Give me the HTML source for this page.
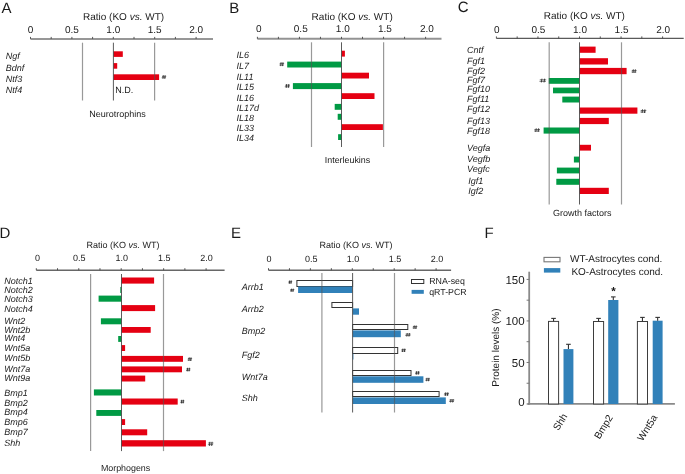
<!DOCTYPE html>
<html><head><meta charset="utf-8"><style>
html,body{margin:0;padding:0;background:#fff;}
svg{display:block;filter:blur(0.4px);}
text{font-family:"Liberation Sans",sans-serif;fill:#1a1a1a;text-rendering:geometricPrecision;}
</style></head><body>
<svg width="685" height="474" viewBox="0 0 685 474">
<rect width="685" height="474" fill="#fff"/>
<text x="1.4" y="13" font-size="15" text-anchor="start">A</text>
<line x1="30.50" y1="38.90" x2="213.00" y2="38.90" stroke="#979797" stroke-width="2.0"/>
<line x1="30.50" y1="36.90" x2="30.50" y2="38.90" stroke="#444" stroke-width="0.9"/>
<line x1="51.20" y1="36.90" x2="51.20" y2="38.90" stroke="#444" stroke-width="0.9"/>
<line x1="71.90" y1="36.90" x2="71.90" y2="38.90" stroke="#444" stroke-width="0.9"/>
<line x1="92.60" y1="36.90" x2="92.60" y2="38.90" stroke="#444" stroke-width="0.9"/>
<line x1="113.30" y1="36.90" x2="113.30" y2="38.90" stroke="#444" stroke-width="0.9"/>
<line x1="134.00" y1="36.90" x2="134.00" y2="38.90" stroke="#444" stroke-width="0.9"/>
<line x1="154.70" y1="36.90" x2="154.70" y2="38.90" stroke="#444" stroke-width="0.9"/>
<line x1="175.40" y1="36.90" x2="175.40" y2="38.90" stroke="#444" stroke-width="0.9"/>
<line x1="196.10" y1="36.90" x2="196.10" y2="38.90" stroke="#444" stroke-width="0.9"/>
<text x="30.50" y="33" font-size="10" text-anchor="middle">0</text>
<text x="71.90" y="33" font-size="10" text-anchor="middle">0.5</text>
<text x="113.30" y="33" font-size="10" text-anchor="middle">1.0</text>
<text x="154.70" y="33" font-size="10" text-anchor="middle">1.5</text>
<text x="196.10" y="33" font-size="10" text-anchor="middle">2.0</text>
<text x="83" y="20.0" font-size="10">Ratio (KO <tspan font-style="italic">vs.</tspan> WT)</text>
<text x="5.8" y="58.9" font-size="9" text-anchor="start" font-style="italic">Ngf</text>
<text x="5.8" y="70.9" font-size="9" text-anchor="start" font-style="italic">Bdnf</text>
<text x="5.8" y="81.7" font-size="9" text-anchor="start" font-style="italic">Ntf3</text>
<text x="5.8" y="92.6" font-size="9" text-anchor="start" font-style="italic">Ntf4</text>
<rect x="113.40" y="51.30" width="9.40" height="5.60" fill="#e50012"/>
<rect x="113.40" y="63.10" width="3.80" height="5.60" fill="#e50012"/>
<rect x="113.40" y="74.30" width="45.70" height="5.70" fill="#e50012"/>
<g stroke="#3a3a3a" fill="none"><line stroke-width="0.7" x1="162.00" y1="76.32" x2="166.20" y2="76.32"/><line stroke-width="0.7" x1="161.70" y1="77.75" x2="165.90" y2="77.75"/><line stroke-width="1.0" x1="163.32" y1="75.30" x2="162.96" y2="78.70"/><line stroke-width="1.0" x1="165.12" y1="75.30" x2="164.76" y2="78.70"/></g>
<text x="115.3" y="92.6" font-size="9" text-anchor="start">N.D.</text>
<text x="89.2" y="116.6" font-size="9" text-anchor="start">Neurotrophins</text>
<text x="229.3" y="12.7" font-size="15" text-anchor="start">B</text>
<line x1="257.40" y1="38.80" x2="441.50" y2="38.80" stroke="#939393" stroke-width="2.0"/>
<line x1="257.40" y1="36.80" x2="257.40" y2="38.80" stroke="#444" stroke-width="0.9"/>
<line x1="278.42" y1="36.80" x2="278.42" y2="38.80" stroke="#444" stroke-width="0.9"/>
<line x1="299.45" y1="36.80" x2="299.45" y2="38.80" stroke="#444" stroke-width="0.9"/>
<line x1="320.47" y1="36.80" x2="320.47" y2="38.80" stroke="#444" stroke-width="0.9"/>
<line x1="341.50" y1="36.80" x2="341.50" y2="38.80" stroke="#444" stroke-width="0.9"/>
<line x1="362.52" y1="36.80" x2="362.52" y2="38.80" stroke="#444" stroke-width="0.9"/>
<line x1="383.55" y1="36.80" x2="383.55" y2="38.80" stroke="#444" stroke-width="0.9"/>
<line x1="404.57" y1="36.80" x2="404.57" y2="38.80" stroke="#444" stroke-width="0.9"/>
<line x1="425.60" y1="36.80" x2="425.60" y2="38.80" stroke="#444" stroke-width="0.9"/>
<text x="258.70" y="31.9" font-size="10" text-anchor="middle">0</text>
<text x="300.75" y="31.9" font-size="10" text-anchor="middle">0.5</text>
<text x="342.80" y="31.9" font-size="10" text-anchor="middle">1.0</text>
<text x="384.85" y="31.9" font-size="10" text-anchor="middle">1.5</text>
<text x="426.90" y="31.9" font-size="10" text-anchor="middle">2.0</text>
<text x="311.6" y="19.7" font-size="10">Ratio (KO <tspan font-style="italic">vs.</tspan> WT)</text>
<text x="236.6" y="57.6" font-size="9" text-anchor="start" font-style="italic">IL6</text>
<text x="236.6" y="69.2" font-size="9" text-anchor="start" font-style="italic">IL7</text>
<text x="236.6" y="79.5" font-size="9" text-anchor="start" font-style="italic">IL11</text>
<text x="236.6" y="90.1" font-size="9" text-anchor="start" font-style="italic">IL15</text>
<text x="236.6" y="100.8" font-size="9" text-anchor="start" font-style="italic">IL16</text>
<text x="236.6" y="111.2" font-size="9" text-anchor="start" font-style="italic">IL17d</text>
<text x="236.6" y="121.2" font-size="9" text-anchor="start" font-style="italic">IL18</text>
<text x="236.6" y="131.4" font-size="9" text-anchor="start" font-style="italic">IL33</text>
<text x="236.6" y="141.1" font-size="9" text-anchor="start" font-style="italic">IL34</text>
<rect x="341.50" y="50.70" width="3.40" height="5.90" fill="#e50012"/>
<rect x="287.20" y="61.60" width="54.30" height="5.90" fill="#009a44"/>
<rect x="341.50" y="72.70" width="27.50" height="5.80" fill="#e50012"/>
<rect x="292.90" y="83.10" width="48.60" height="6.00" fill="#009a44"/>
<rect x="341.50" y="93.20" width="33.00" height="5.80" fill="#e50012"/>
<rect x="334.70" y="103.90" width="6.80" height="5.90" fill="#009a44"/>
<rect x="337.70" y="113.80" width="3.80" height="6.00" fill="#009a44"/>
<rect x="341.50" y="124.20" width="41.40" height="5.80" fill="#e50012"/>
<rect x="338.10" y="134.20" width="3.40" height="5.80" fill="#009a44"/>
<g stroke="#3a3a3a" fill="none"><line stroke-width="0.7" x1="279.70" y1="63.44" x2="284.10" y2="63.44"/><line stroke-width="0.7" x1="279.40" y1="65.04" x2="283.80" y2="65.04"/><line stroke-width="1.0" x1="281.09" y1="62.30" x2="280.72" y2="66.10"/><line stroke-width="1.0" x1="282.97" y1="62.30" x2="282.60" y2="66.10"/></g>
<g stroke="#3a3a3a" fill="none"><line stroke-width="0.7" x1="285.10" y1="85.21" x2="290.00" y2="85.21"/><line stroke-width="0.7" x1="284.80" y1="86.76" x2="289.70" y2="86.76"/><line stroke-width="1.0" x1="286.67" y1="84.10" x2="286.26" y2="87.80"/><line stroke-width="1.0" x1="288.75" y1="84.10" x2="288.34" y2="87.80"/></g>
<text x="324.8" y="163.3" font-size="8.9" text-anchor="start">Interleukins</text>
<text x="457.8" y="12.3" font-size="15" text-anchor="start">C</text>
<line x1="496.40" y1="38.40" x2="683.70" y2="38.40" stroke="#5a5a5a" stroke-width="1.3"/>
<line x1="496.40" y1="36.40" x2="496.40" y2="38.40" stroke="#444" stroke-width="0.9"/>
<line x1="517.17" y1="36.40" x2="517.17" y2="38.40" stroke="#444" stroke-width="0.9"/>
<line x1="537.95" y1="36.40" x2="537.95" y2="38.40" stroke="#444" stroke-width="0.9"/>
<line x1="558.73" y1="36.40" x2="558.73" y2="38.40" stroke="#444" stroke-width="0.9"/>
<line x1="579.50" y1="36.40" x2="579.50" y2="38.40" stroke="#444" stroke-width="0.9"/>
<line x1="600.27" y1="36.40" x2="600.27" y2="38.40" stroke="#444" stroke-width="0.9"/>
<line x1="621.05" y1="36.40" x2="621.05" y2="38.40" stroke="#444" stroke-width="0.9"/>
<line x1="641.82" y1="36.40" x2="641.82" y2="38.40" stroke="#444" stroke-width="0.9"/>
<line x1="662.60" y1="36.40" x2="662.60" y2="38.40" stroke="#444" stroke-width="0.9"/>
<text x="496.90" y="32.6" font-size="10" text-anchor="middle">0</text>
<text x="538.45" y="32.6" font-size="10" text-anchor="middle">0.5</text>
<text x="580.00" y="32.6" font-size="10" text-anchor="middle">1.0</text>
<text x="621.55" y="32.6" font-size="10" text-anchor="middle">1.5</text>
<text x="663.10" y="32.6" font-size="10" text-anchor="middle">2.0</text>
<text x="543.8" y="19.3" font-size="10">Ratio (KO <tspan font-style="italic">vs.</tspan> WT)</text>
<text x="467" y="52.8" font-size="9" text-anchor="start" font-style="italic">Cntf</text>
<text x="467" y="63.6" font-size="9" text-anchor="start" font-style="italic">Fgf1</text>
<text x="467" y="73.5" font-size="9" text-anchor="start" font-style="italic">Fgf2</text>
<text x="467" y="83.1" font-size="9" text-anchor="start" font-style="italic">Fgf7</text>
<text x="467" y="92.4" font-size="9" text-anchor="start" font-style="italic">Fgf10</text>
<text x="467" y="102.2" font-size="9" text-anchor="start" font-style="italic">Fgf11</text>
<text x="467" y="112.3" font-size="9" text-anchor="start" font-style="italic">Fgf12</text>
<text x="467" y="123.5" font-size="9" text-anchor="start" font-style="italic">Fgf13</text>
<text x="467" y="133.7" font-size="9" text-anchor="start" font-style="italic">Fgf18</text>
<text x="467" y="150.6" font-size="9" text-anchor="start" font-style="italic">Vegfa</text>
<text x="467" y="161.5" font-size="9" text-anchor="start" font-style="italic">Vegfb</text>
<text x="467" y="171.7" font-size="9" text-anchor="start" font-style="italic">Vegfc</text>
<text x="468.3" y="184.0" font-size="9" text-anchor="start" font-style="italic">Igf1</text>
<text x="468.3" y="194.2" font-size="9" text-anchor="start" font-style="italic">Igf2</text>
<rect x="579.50" y="46.60" width="16.10" height="6.20" fill="#e50012"/>
<rect x="579.50" y="58.20" width="28.50" height="6.30" fill="#e50012"/>
<rect x="579.50" y="67.90" width="47.10" height="6.30" fill="#e50012"/>
<rect x="548.80" y="78.00" width="30.70" height="5.80" fill="#009a44"/>
<rect x="553.00" y="87.60" width="26.50" height="5.70" fill="#009a44"/>
<rect x="562.30" y="96.60" width="17.20" height="5.90" fill="#009a44"/>
<rect x="579.50" y="107.50" width="57.90" height="6.20" fill="#e50012"/>
<rect x="579.50" y="117.90" width="29.30" height="6.20" fill="#e50012"/>
<rect x="543.60" y="127.50" width="35.90" height="6.10" fill="#009a44"/>
<rect x="579.50" y="144.80" width="11.50" height="5.80" fill="#e50012"/>
<rect x="573.90" y="156.60" width="5.60" height="5.90" fill="#009a44"/>
<rect x="556.90" y="167.60" width="22.60" height="5.80" fill="#009a44"/>
<rect x="556.30" y="178.80" width="23.20" height="6.00" fill="#009a44"/>
<rect x="579.50" y="187.80" width="29.30" height="6.20" fill="#e50012"/>
<g stroke="#3a3a3a" fill="none"><line stroke-width="0.7" x1="631.80" y1="70.48" x2="636.60" y2="70.48"/><line stroke-width="0.7" x1="631.50" y1="71.99" x2="636.30" y2="71.99"/><line stroke-width="1.0" x1="633.34" y1="69.40" x2="632.93" y2="73.00"/><line stroke-width="1.0" x1="635.38" y1="69.40" x2="634.97" y2="73.00"/></g>
<g stroke="#3a3a3a" fill="none"><line stroke-width="0.7" x1="539.80" y1="79.81" x2="546.20" y2="79.81"/><line stroke-width="0.7" x1="539.50" y1="81.36" x2="545.90" y2="81.36"/><line stroke-width="1.0" x1="541.91" y1="78.70" x2="541.38" y2="82.40"/><line stroke-width="1.0" x1="544.59" y1="78.70" x2="544.06" y2="82.40"/></g>
<g stroke="#3a3a3a" fill="none"><line stroke-width="0.7" x1="640.70" y1="110.48" x2="646.30" y2="110.48"/><line stroke-width="0.7" x1="640.40" y1="111.99" x2="646.00" y2="111.99"/><line stroke-width="1.0" x1="642.52" y1="109.40" x2="642.05" y2="113.00"/><line stroke-width="1.0" x1="644.88" y1="109.40" x2="644.41" y2="113.00"/></g>
<g stroke="#3a3a3a" fill="none"><line stroke-width="0.7" x1="534.40" y1="129.48" x2="540.00" y2="129.48"/><line stroke-width="0.7" x1="534.10" y1="130.99" x2="539.70" y2="130.99"/><line stroke-width="1.0" x1="536.22" y1="128.40" x2="535.75" y2="132.00"/><line stroke-width="1.0" x1="538.58" y1="128.40" x2="538.11" y2="132.00"/></g>
<text x="552.9" y="216.2" font-size="9" text-anchor="start">Growth factors</text>
<text x="-0.5" y="238.2" font-size="15" text-anchor="start">D</text>
<line x1="36.30" y1="270.20" x2="224.60" y2="270.20" stroke="#676767" stroke-width="1.5"/>
<line x1="36.30" y1="268.20" x2="36.30" y2="270.20" stroke="#444" stroke-width="0.9"/>
<line x1="57.52" y1="268.20" x2="57.52" y2="270.20" stroke="#444" stroke-width="0.9"/>
<line x1="78.75" y1="268.20" x2="78.75" y2="270.20" stroke="#444" stroke-width="0.9"/>
<line x1="99.97" y1="268.20" x2="99.97" y2="270.20" stroke="#444" stroke-width="0.9"/>
<line x1="121.20" y1="268.20" x2="121.20" y2="270.20" stroke="#444" stroke-width="0.9"/>
<line x1="142.43" y1="268.20" x2="142.43" y2="270.20" stroke="#444" stroke-width="0.9"/>
<line x1="163.65" y1="268.20" x2="163.65" y2="270.20" stroke="#444" stroke-width="0.9"/>
<line x1="184.88" y1="268.20" x2="184.88" y2="270.20" stroke="#444" stroke-width="0.9"/>
<line x1="206.10" y1="268.20" x2="206.10" y2="270.20" stroke="#444" stroke-width="0.9"/>
<text x="37.40" y="261" font-size="9" text-anchor="middle">0</text>
<text x="79.25" y="261" font-size="9" text-anchor="middle">0.5</text>
<text x="121.70" y="261" font-size="9" text-anchor="middle">1.0</text>
<text x="164.15" y="261" font-size="9" text-anchor="middle">1.5</text>
<text x="206.60" y="261" font-size="9" text-anchor="middle">2.0</text>
<text x="86.5" y="247.7" font-size="9">Ratio (KO <tspan font-style="italic">vs.</tspan> WT)</text>
<text x="4.2" y="283.9" font-size="9" text-anchor="start" font-style="italic">Notch1</text>
<text x="4.2" y="292.5" font-size="9" text-anchor="start" font-style="italic">Notch2</text>
<text x="4.2" y="301.7" font-size="9" text-anchor="start" font-style="italic">Notch3</text>
<text x="4.2" y="311.6" font-size="9" text-anchor="start" font-style="italic">Notch4</text>
<text x="4.2" y="324.0" font-size="9" text-anchor="start" font-style="italic">Wnt2</text>
<text x="4.2" y="332.6" font-size="9" text-anchor="start" font-style="italic">Wnt2b</text>
<text x="4.2" y="341.0" font-size="9" text-anchor="start" font-style="italic">Wnt4</text>
<text x="4.2" y="350.5" font-size="9" text-anchor="start" font-style="italic">Wnt5a</text>
<text x="4.2" y="360.9" font-size="9" text-anchor="start" font-style="italic">Wnt5b</text>
<text x="4.2" y="371.7" font-size="9" text-anchor="start" font-style="italic">Wnt7a</text>
<text x="4.2" y="380.8" font-size="9" text-anchor="start" font-style="italic">Wnt9a</text>
<text x="4.2" y="395.5" font-size="9" text-anchor="start" font-style="italic">Bmp1</text>
<text x="4.2" y="405.8" font-size="9" text-anchor="start" font-style="italic">Bmp2</text>
<text x="4.2" y="415.2" font-size="9" text-anchor="start" font-style="italic">Bmp4</text>
<text x="4.2" y="424.7" font-size="9" text-anchor="start" font-style="italic">Bmp6</text>
<text x="4.2" y="434.8" font-size="9" text-anchor="start" font-style="italic">Bmp7</text>
<text x="4.2" y="445.8" font-size="9" text-anchor="start" font-style="italic">Shh</text>
<rect x="121.40" y="277.50" width="32.70" height="6.10" fill="#e50012"/>
<rect x="120.30" y="286.90" width="1.10" height="6.10" fill="#009a44"/>
<rect x="98.60" y="295.60" width="22.80" height="6.10" fill="#009a44"/>
<rect x="121.40" y="305.10" width="33.70" height="6.00" fill="#e50012"/>
<rect x="100.90" y="318.30" width="20.50" height="6.00" fill="#009a44"/>
<rect x="121.40" y="327.00" width="29.30" height="5.80" fill="#e50012"/>
<rect x="118.20" y="336.00" width="3.20" height="5.90" fill="#009a44"/>
<rect x="121.40" y="345.10" width="3.70" height="5.90" fill="#e50012"/>
<rect x="121.40" y="355.90" width="61.60" height="5.90" fill="#e50012"/>
<rect x="121.40" y="366.40" width="60.60" height="5.90" fill="#e50012"/>
<rect x="121.40" y="375.60" width="23.80" height="5.90" fill="#e50012"/>
<rect x="93.90" y="389.40" width="27.50" height="6.10" fill="#009a44"/>
<rect x="121.40" y="398.50" width="56.30" height="6.10" fill="#e50012"/>
<rect x="96.30" y="410.00" width="25.10" height="5.90" fill="#009a44"/>
<rect x="121.40" y="419.10" width="3.70" height="5.90" fill="#e50012"/>
<rect x="121.40" y="429.30" width="25.80" height="6.00" fill="#e50012"/>
<rect x="121.40" y="440.20" width="84.50" height="6.30" fill="#e50012"/>
<g stroke="#3a3a3a" fill="none"><line stroke-width="0.7" x1="187.90" y1="358.48" x2="192.10" y2="358.48"/><line stroke-width="0.7" x1="187.60" y1="359.99" x2="191.80" y2="359.99"/><line stroke-width="1.0" x1="189.22" y1="357.40" x2="188.86" y2="361.00"/><line stroke-width="1.0" x1="191.02" y1="357.40" x2="190.66" y2="361.00"/></g>
<g stroke="#3a3a3a" fill="none"><line stroke-width="0.7" x1="186.30" y1="368.88" x2="190.50" y2="368.88"/><line stroke-width="0.7" x1="186.00" y1="370.39" x2="190.20" y2="370.39"/><line stroke-width="1.0" x1="187.62" y1="367.80" x2="187.26" y2="371.40"/><line stroke-width="1.0" x1="189.42" y1="367.80" x2="189.06" y2="371.40"/></g>
<g stroke="#3a3a3a" fill="none"><line stroke-width="0.7" x1="180.60" y1="400.88" x2="184.40" y2="400.88"/><line stroke-width="0.7" x1="180.30" y1="402.39" x2="184.10" y2="402.39"/><line stroke-width="1.0" x1="181.78" y1="399.80" x2="181.45" y2="403.40"/><line stroke-width="1.0" x1="183.42" y1="399.80" x2="183.09" y2="403.40"/></g>
<g stroke="#3a3a3a" fill="none"><line stroke-width="0.7" x1="208.20" y1="443.00" x2="213.40" y2="443.00"/><line stroke-width="0.7" x1="207.90" y1="444.68" x2="213.10" y2="444.68"/><line stroke-width="1.0" x1="209.88" y1="441.80" x2="209.44" y2="445.80"/><line stroke-width="1.0" x1="212.08" y1="441.80" x2="211.64" y2="445.80"/></g>
<text x="100.9" y="471.1" font-size="8.9" text-anchor="start">Morphogens</text>
<text x="231.0" y="238.2" font-size="15" text-anchor="start">E</text>
<line x1="268.50" y1="270.20" x2="451.10" y2="270.20" stroke="#676767" stroke-width="1.5"/>
<line x1="268.50" y1="268.20" x2="268.50" y2="270.20" stroke="#444" stroke-width="0.9"/>
<line x1="289.45" y1="268.20" x2="289.45" y2="270.20" stroke="#444" stroke-width="0.9"/>
<line x1="310.40" y1="268.20" x2="310.40" y2="270.20" stroke="#444" stroke-width="0.9"/>
<line x1="331.35" y1="268.20" x2="331.35" y2="270.20" stroke="#444" stroke-width="0.9"/>
<line x1="352.30" y1="268.20" x2="352.30" y2="270.20" stroke="#444" stroke-width="0.9"/>
<line x1="373.25" y1="268.20" x2="373.25" y2="270.20" stroke="#444" stroke-width="0.9"/>
<line x1="394.20" y1="268.20" x2="394.20" y2="270.20" stroke="#444" stroke-width="0.9"/>
<line x1="415.15" y1="268.20" x2="415.15" y2="270.20" stroke="#444" stroke-width="0.9"/>
<line x1="436.10" y1="268.20" x2="436.10" y2="270.20" stroke="#444" stroke-width="0.9"/>
<text x="269.10" y="261.9" font-size="9" text-anchor="middle">0</text>
<text x="311.20" y="261.9" font-size="9" text-anchor="middle">0.5</text>
<text x="353.10" y="261.9" font-size="9" text-anchor="middle">1.0</text>
<text x="395.00" y="261.9" font-size="9" text-anchor="middle">1.5</text>
<text x="436.90" y="261.9" font-size="9" text-anchor="middle">2.0</text>
<text x="319.4" y="248.0" font-size="9">Ratio (KO <tspan font-style="italic">vs.</tspan> WT)</text>
<text x="241.8" y="289.9" font-size="9" text-anchor="start" font-style="italic">Arrb1</text>
<text x="241.8" y="311.7" font-size="9" text-anchor="start" font-style="italic">Arrb2</text>
<text x="241.8" y="334.2" font-size="9" text-anchor="start" font-style="italic">Bmp2</text>
<text x="241.8" y="357.5" font-size="9" text-anchor="start" font-style="italic">Fgf2</text>
<text x="241.8" y="379.7" font-size="9" text-anchor="start" font-style="italic">Wnt7a</text>
<text x="241.8" y="400.8" font-size="9" text-anchor="start" font-style="italic">Shh</text>
<rect x="296.9" y="280.5" width="55.700000000000045" height="6.0" fill="#fff" stroke="#333" stroke-width="1"/>
<rect x="298.10" y="286.50" width="54.50" height="6.50" fill="#3181b9"/>
<rect x="331.9" y="302.5" width="20.700000000000045" height="5.0" fill="#fff" stroke="#333" stroke-width="1"/>
<rect x="352.60" y="308.40" width="6.40" height="6.30" fill="#3181b9"/>
<rect x="352.6" y="324.5" width="55.19999999999999" height="5.0" fill="#fff" stroke="#333" stroke-width="1"/>
<rect x="352.60" y="330.40" width="48.20" height="6.80" fill="#3181b9"/>
<rect x="352.6" y="347.5" width="45.10000000000002" height="6.0" fill="#fff" stroke="#333" stroke-width="1"/>
<rect x="352.60" y="353.60" width="0.80" height="5.90" fill="#3181b9"/>
<rect x="352.6" y="370.5" width="58.39999999999998" height="5.0" fill="#fff" stroke="#333" stroke-width="1"/>
<rect x="352.60" y="376.30" width="70.80" height="6.50" fill="#3181b9"/>
<rect x="352.6" y="391.5" width="86.5" height="5.0" fill="#fff" stroke="#333" stroke-width="1"/>
<rect x="352.60" y="397.40" width="93.20" height="6.60" fill="#3181b9"/>
<g stroke="#3a3a3a" fill="none"><line stroke-width="0.7" x1="288.60" y1="281.46" x2="292.20" y2="281.46"/><line stroke-width="0.7" x1="288.30" y1="282.80" x2="291.90" y2="282.80"/><line stroke-width="1.0" x1="289.70" y1="280.50" x2="289.39" y2="283.70"/><line stroke-width="1.0" x1="291.26" y1="280.50" x2="290.95" y2="283.70"/></g>
<g stroke="#3a3a3a" fill="none"><line stroke-width="0.7" x1="290.30" y1="289.60" x2="294.30" y2="289.60"/><line stroke-width="0.7" x1="290.00" y1="290.86" x2="294.00" y2="290.86"/><line stroke-width="1.0" x1="291.55" y1="288.70" x2="291.20" y2="291.70"/><line stroke-width="1.0" x1="293.27" y1="288.70" x2="292.92" y2="291.70"/></g>
<g stroke="#3a3a3a" fill="none"><line stroke-width="0.7" x1="412.90" y1="326.52" x2="417.30" y2="326.52"/><line stroke-width="0.7" x1="412.60" y1="327.95" x2="417.00" y2="327.95"/><line stroke-width="1.0" x1="414.29" y1="325.50" x2="413.92" y2="328.90"/><line stroke-width="1.0" x1="416.17" y1="325.50" x2="415.80" y2="328.90"/></g>
<g stroke="#3a3a3a" fill="none"><line stroke-width="0.7" x1="405.60" y1="334.12" x2="410.70" y2="334.12"/><line stroke-width="0.7" x1="405.30" y1="335.55" x2="410.40" y2="335.55"/><line stroke-width="1.0" x1="407.24" y1="333.10" x2="406.81" y2="336.50"/><line stroke-width="1.0" x1="409.40" y1="333.10" x2="408.97" y2="336.50"/></g>
<g stroke="#3a3a3a" fill="none"><line stroke-width="0.7" x1="401.50" y1="349.62" x2="405.90" y2="349.62"/><line stroke-width="0.7" x1="401.20" y1="351.05" x2="405.60" y2="351.05"/><line stroke-width="1.0" x1="402.89" y1="348.60" x2="402.52" y2="352.00"/><line stroke-width="1.0" x1="404.77" y1="348.60" x2="404.40" y2="352.00"/></g>
<g stroke="#3a3a3a" fill="none"><line stroke-width="0.7" x1="415.30" y1="372.22" x2="419.80" y2="372.22"/><line stroke-width="0.7" x1="415.00" y1="373.65" x2="419.50" y2="373.65"/><line stroke-width="1.0" x1="416.73" y1="371.20" x2="416.34" y2="374.60"/><line stroke-width="1.0" x1="418.65" y1="371.20" x2="418.26" y2="374.60"/></g>
<g stroke="#3a3a3a" fill="none"><line stroke-width="0.7" x1="425.60" y1="378.82" x2="430.00" y2="378.82"/><line stroke-width="0.7" x1="425.30" y1="380.25" x2="429.70" y2="380.25"/><line stroke-width="1.0" x1="426.99" y1="377.80" x2="426.62" y2="381.20"/><line stroke-width="1.0" x1="428.87" y1="377.80" x2="428.50" y2="381.20"/></g>
<g stroke="#3a3a3a" fill="none"><line stroke-width="0.7" x1="444.20" y1="393.42" x2="449.00" y2="393.42"/><line stroke-width="0.7" x1="443.90" y1="394.85" x2="448.70" y2="394.85"/><line stroke-width="1.0" x1="445.74" y1="392.40" x2="445.33" y2="395.80"/><line stroke-width="1.0" x1="447.78" y1="392.40" x2="447.37" y2="395.80"/></g>
<g stroke="#3a3a3a" fill="none"><line stroke-width="0.7" x1="449.50" y1="400.02" x2="454.30" y2="400.02"/><line stroke-width="0.7" x1="449.20" y1="401.45" x2="454.00" y2="401.45"/><line stroke-width="1.0" x1="451.04" y1="399.00" x2="450.63" y2="402.40"/><line stroke-width="1.0" x1="453.08" y1="399.00" x2="452.67" y2="402.40"/></g>
<rect x="411.5" y="279.5" width="12.300000000000011" height="4.0" fill="#fff" stroke="#333" stroke-width="1"/>
<rect x="411.60" y="289.90" width="12.20" height="3.90" fill="#3181b9"/>
<text x="429.2" y="283.7" font-size="8.8" text-anchor="start">RNA-seq</text>
<text x="429.2" y="295.0" font-size="8.8" text-anchor="start">qRT-PCR</text>
<text x="484.6" y="237.9" font-size="15" text-anchor="start">F</text>
<line x1="529.20" y1="271.70" x2="529.20" y2="404.60" stroke="#8a8a8a" stroke-width="1.8"/>
<line x1="527.60" y1="403.90" x2="674.90" y2="403.90" stroke="#8a8a8a" stroke-width="1.8"/>
<line x1="526.60" y1="404.00" x2="529.30" y2="404.00" stroke="#777" stroke-width="1.0"/>
<line x1="526.60" y1="383.24" x2="529.30" y2="383.24" stroke="#777" stroke-width="1.0"/>
<line x1="526.60" y1="362.47" x2="529.30" y2="362.47" stroke="#777" stroke-width="1.0"/>
<line x1="526.60" y1="341.70" x2="529.30" y2="341.70" stroke="#777" stroke-width="1.0"/>
<line x1="526.60" y1="320.94" x2="529.30" y2="320.94" stroke="#777" stroke-width="1.0"/>
<line x1="526.60" y1="300.18" x2="529.30" y2="300.18" stroke="#777" stroke-width="1.0"/>
<line x1="526.60" y1="279.41" x2="529.30" y2="279.41" stroke="#777" stroke-width="1.0"/>
<text x="524.6" y="283.61" font-size="11.5" text-anchor="end">150</text>
<text x="524.6" y="325.14" font-size="11.5" text-anchor="end">100</text>
<text x="524.6" y="366.67" font-size="11.5" text-anchor="end">50</text>
<text x="524.6" y="405.80" font-size="11.5" text-anchor="end">0</text>
<text transform="translate(499.3,347.6) rotate(-90)" font-size="10" text-anchor="middle">Protein levels (%)</text>
<rect x="544.0" y="257.4" width="16.0" height="4.4" fill="#fff" stroke="#777" stroke-width="1.1"/>
<rect x="543.90" y="268.10" width="16.40" height="4.50" fill="#3181b9"/>
<text x="570" y="262.4" font-size="10" text-anchor="start">WT-Astrocytes cond.</text>
<text x="571.4" y="274.7" font-size="10" text-anchor="start">KO-Astrocytes cond.</text>
<rect x="548.50" y="321.40" width="10.10" height="82.60" fill="#fff" stroke="#3d3d3d" stroke-width="1"/>
<line x1="553.55" y1="321.40" x2="553.55" y2="318.40" stroke="#333" stroke-width="1.1"/>
<line x1="551.25" y1="318.40" x2="555.85" y2="318.40" stroke="#333" stroke-width="1.1"/>
<rect x="563.50" y="349.10" width="9.90" height="54.90" fill="#3181b9"/>
<line x1="568.45" y1="349.10" x2="568.45" y2="344.30" stroke="#333" stroke-width="1.1"/>
<line x1="566.15" y1="344.30" x2="570.75" y2="344.30" stroke="#333" stroke-width="1.1"/>
<rect x="593.50" y="321.50" width="10.10" height="82.50" fill="#fff" stroke="#3d3d3d" stroke-width="1"/>
<line x1="598.55" y1="321.50" x2="598.55" y2="318.40" stroke="#333" stroke-width="1.1"/>
<line x1="596.25" y1="318.40" x2="600.85" y2="318.40" stroke="#333" stroke-width="1.1"/>
<rect x="608.20" y="300.00" width="10.20" height="104.00" fill="#3181b9"/>
<line x1="613.30" y1="300.00" x2="613.30" y2="296.90" stroke="#333" stroke-width="1.1"/>
<line x1="611.00" y1="296.90" x2="615.60" y2="296.90" stroke="#333" stroke-width="1.1"/>
<rect x="637.40" y="321.50" width="10.10" height="82.50" fill="#fff" stroke="#3d3d3d" stroke-width="1"/>
<line x1="642.45" y1="321.50" x2="642.45" y2="317.40" stroke="#333" stroke-width="1.1"/>
<line x1="640.15" y1="317.40" x2="644.75" y2="317.40" stroke="#333" stroke-width="1.1"/>
<rect x="652.70" y="320.70" width="9.90" height="83.30" fill="#3181b9"/>
<line x1="657.65" y1="320.70" x2="657.65" y2="317.40" stroke="#333" stroke-width="1.1"/>
<line x1="655.35" y1="317.40" x2="659.95" y2="317.40" stroke="#333" stroke-width="1.1"/>
<text x="613.6" y="294.8" font-size="11.5" text-anchor="middle" font-weight="bold">*</text>
<text transform="translate(567.8,416.2) rotate(-58)" font-size="10" text-anchor="end">Shh</text>
<text transform="translate(613.3,417.5) rotate(-58)" font-size="10" text-anchor="end">Bmp2</text>
<text transform="translate(657.8,417.3) rotate(-58)" font-size="10" text-anchor="end">Wnt5a</text>
<line x1="82.50" y1="42.70" x2="82.50" y2="100.50" stroke="#555" stroke-width="1.2" stroke-opacity="0.6"/>
<line x1="113.40" y1="42.70" x2="113.40" y2="100.50" stroke="#4a4a4a" stroke-width="1.0" stroke-opacity="0.9"/>
<line x1="154.60" y1="42.70" x2="154.60" y2="100.50" stroke="#555" stroke-width="1.2" stroke-opacity="0.6"/>
<line x1="311.50" y1="42.30" x2="311.50" y2="147.00" stroke="#555" stroke-width="1.2" stroke-opacity="0.6"/>
<line x1="341.50" y1="42.30" x2="341.50" y2="147.00" stroke="#4a4a4a" stroke-width="1.0" stroke-opacity="0.9"/>
<line x1="383.60" y1="42.30" x2="383.60" y2="147.00" stroke="#555" stroke-width="1.2" stroke-opacity="0.6"/>
<line x1="549.20" y1="42.30" x2="549.20" y2="204.50" stroke="#555" stroke-width="1.2" stroke-opacity="0.6"/>
<line x1="579.50" y1="42.30" x2="579.50" y2="204.50" stroke="#4a4a4a" stroke-width="1.0" stroke-opacity="0.9"/>
<line x1="621.50" y1="42.30" x2="621.50" y2="204.50" stroke="#555" stroke-width="1.2" stroke-opacity="0.6"/>
<line x1="90.60" y1="274.00" x2="90.60" y2="451.10" stroke="#555" stroke-width="1.2" stroke-opacity="0.6"/>
<line x1="121.50" y1="274.00" x2="121.50" y2="451.10" stroke="#4a4a4a" stroke-width="1.0" stroke-opacity="0.9"/>
<line x1="163.50" y1="274.00" x2="163.50" y2="451.10" stroke="#555" stroke-width="1.2" stroke-opacity="0.6"/>
<line x1="321.90" y1="273.00" x2="321.90" y2="412.50" stroke="#555" stroke-width="1.2" stroke-opacity="0.6"/>
<line x1="352.60" y1="273.00" x2="352.60" y2="412.50" stroke="#4a4a4a" stroke-width="1.0" stroke-opacity="0.9"/>
<line x1="394.50" y1="273.00" x2="394.50" y2="412.50" stroke="#555" stroke-width="1.2" stroke-opacity="0.6"/>
</svg>
</body></html>
